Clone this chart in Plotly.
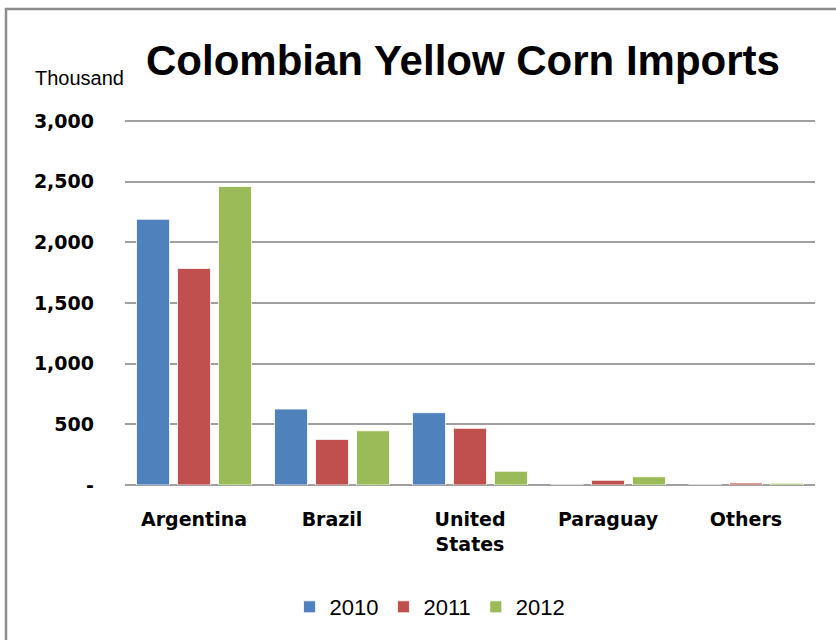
import plotly.graph_objects as go

categories = ["Argentina", "Brazil", "United<br>States", "Paraguay", "Others"]
years = ["2010", "2011", "2012"]
values_2010 = [2190, 626, 596, 0, 0]
values_2011 = [1785, 376, 467, 39, 16]
values_2012 = [2460, 447, 113, 68, 14]
colors = ["#4F81BD", "#C0504D", "#9BBB59"]
tick_vals = [0, 500, 1000, 1500, 2000, 2500, 3000]
tick_text = ["-", "500", "1,000", "1,500", "2,000", "2,500", "3,000"]

W, H = 836, 640
L, R, T, B = 125, 21, 118, 155
pw, ph = W - L - R, H - T - B

def px_x(x):
    return (x - L) / pw

def px_y(y):
    return (H - B - y) / ph

fig = go.Figure()
for name, vals, col in zip(years, [values_2010, values_2011, values_2012], colors):
    fig.add_trace(go.Bar(x=categories, y=vals, name=name,
                         marker=dict(color=col, line=dict(color="white", width=0.8))))

fig.update_layout(
    width=W, height=H,
    margin=dict(l=L, r=R, t=T, b=B, autoexpand=False),
    paper_bgcolor="white", plot_bgcolor="white",
    barmode="group", bargap=0.109, bargroupgap=0.195,
    showlegend=True,
    legend=dict(orientation="h", x=px_x(430), xanchor="center", y=px_y(607), yanchor="middle",
                font=dict(family="Liberation Sans, Arial", size=22, color="black"),
                itemwidth=30, traceorder="normal"),
    font=dict(family="DejaVu Sans", color="black"),
)
fig.update_xaxes(showgrid=False, showline=False, ticks="", zeroline=False,
                 tickfont=dict(family="DejaVu Sans", size=19, color="black", weight="bold"),
                 ticklabelstandoff=21)
fig.update_yaxes(range=[0, 3000 * 367 / 364], tickvals=tick_vals, ticktext=tick_text,
                 showgrid=True, gridcolor="#A0A0A0", gridwidth=1.5,
                 zeroline=True, zerolinecolor="#A0A0A0", zerolinewidth=1.5,
                 showline=False, ticks="",
                 tickfont=dict(family="DejaVu Sans", size=19, color="black", weight="bold"),
                 ticklabelstandoff=30)

fig.add_annotation(text="Colombian Yellow Corn Imports", xref="paper", yref="paper",
                   x=px_x(463), y=px_y(60), xanchor="center", yanchor="middle", showarrow=False,
                   font=dict(family="Liberation Sans, Arial", size=42, color="black", weight="bold"))
fig.add_annotation(text="Thousand", xref="paper", yref="paper",
                   x=px_x(126), y=px_y(78), xanchor="right", yanchor="middle", showarrow=False,
                   font=dict(family="Liberation Sans, Arial", size=20, color="black"))
fig.add_shape(type="rect", xref="paper", yref="paper",
              x0=px_x(6), x1=px_x(900), y0=px_y(700), y1=px_y(9),
              line=dict(color="#8C8C8C", width=2.5), fillcolor="rgba(0,0,0,0)", layer="below")

fig.write_html("out.html")
